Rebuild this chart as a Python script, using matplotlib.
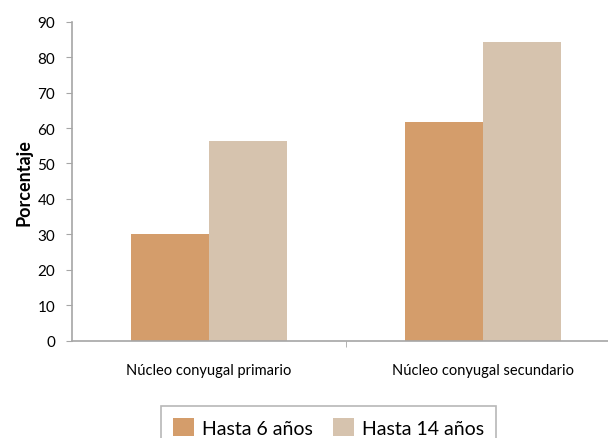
import numpy as np
import matplotlib.pyplot as plt
from matplotlib.ticker import FixedLocator

plt.rcParams['font.family'] = ['Lato', 'DejaVu Sans']

categories = ['Núcleo conyugal primario', 'Núcleo conyugal secundario']
series_names = ['Hasta 6 años', 'Hasta 14 años']
hasta_6 = [30.1, 61.6]
hasta_14 = [56.3, 84.2]
yticks = [0, 10, 20, 30, 40, 50, 60, 70, 80, 90]

colors = ['#d49d6b', '#d6c3ae']
grey = '#a6a6a6'

fig = plt.figure(figsize=(6.08, 4.39), dpi=100)
ax = fig.add_axes([72 / 608, 1 - 341.7 / 439, 548 / 608, (341.7 - 22.7) / 439])

x = np.arange(len(categories))
w = 0.283
ax.bar(x - w / 2, hasta_6, width=w, color=colors[0], label=series_names[0])
ax.bar(x + w / 2, hasta_14, width=w, color=colors[1], label=series_names[1])

ax.set_xlim(-0.5, 1.5)
ax.set_ylim(0, 90)
ax.set_yticks(yticks)
ax.set_xticks(x)
ax.set_xticklabels(categories, fontsize=10.5)
ax.xaxis.set_minor_locator(FixedLocator([0.5]))
ax.tick_params(axis='x', which='major', length=0, pad=16)
ax.tick_params(axis='x', which='minor', length=4, color=grey)
ax.tick_params(axis='y', length=4, color=grey, labelsize=11, pad=8)

for s in ['top', 'right']:
    ax.spines[s].set_visible(False)
for s in ['left', 'bottom']:
    ax.spines[s].set_color(grey)
    ax.spines[s].set_linewidth(1.2)

ax.set_ylabel('Porcentaje', fontsize=13, fontweight='bold', labelpad=4)

leg = fig.legend(loc='upper center', bbox_to_anchor=(328.5 / 608, 1 - 407 / 439),
                 ncol=2, frameon=True, fancybox=False, fontsize=14,
                 handlelength=1.1, handleheight=1.1, handletextpad=0.4,
                 columnspacing=1.0, borderpad=0.6, borderaxespad=0)
leg.get_frame().set_edgecolor(grey)
leg.get_frame().set_linewidth(1.2)

plt.savefig('out.png', dpi=100)
